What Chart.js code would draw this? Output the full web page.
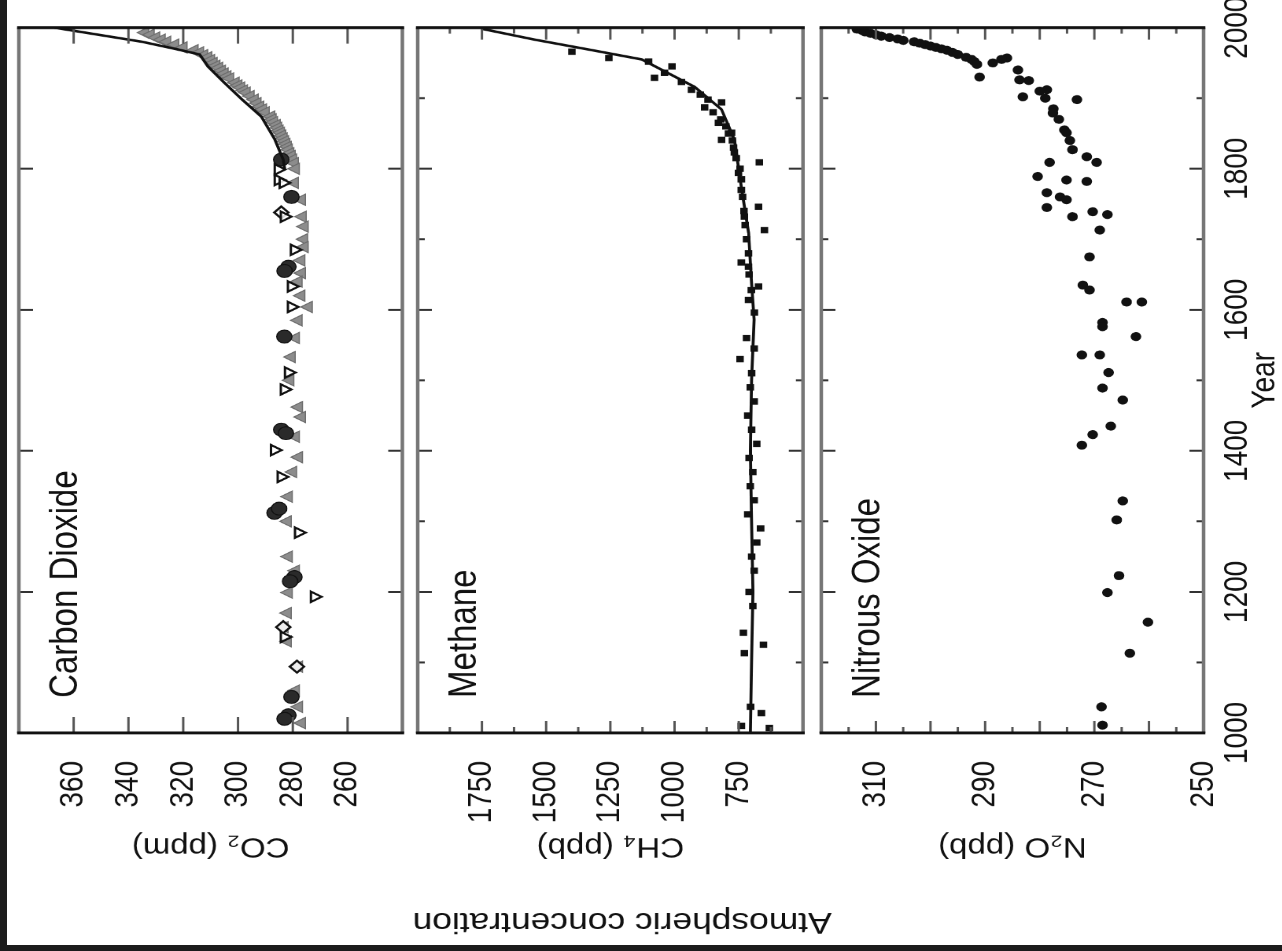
<!DOCTYPE html>
<html><head><meta charset="utf-8">
<script src="https://cdn.jsdelivr.net/npm/chart.js@4.4.1/dist/chart.umd.min.js"></script>
<style>
html,body{margin:0;padding:0;background:#fff;overflow:hidden;}
#stage{position:relative;width:1282px;height:951px;background:#fff;overflow:hidden;}
#rot{position:absolute;left:0;top:0;width:951px;height:1086px;transform-origin:0 0;transform:translate(0px,951px) rotate(-90deg) scale(1,1.18);}
.layer{position:absolute;left:0;top:0;width:951px;height:1086px;}
#bandL{position:absolute;left:0;top:0;width:7px;height:951px;background:#1c1c1c;}
#bandB{position:absolute;left:0;top:945px;width:1282px;height:6px;background:#1c1c1c;}
</style></head>
<body><div id="stage"><div id="rot">
<div class="layer"><canvas id="c1"></canvas></div>
<div class="layer"><canvas id="c2"></canvas></div>
<div class="layer"><canvas id="c3"></canvas></div>
</div><div id="bandL"></div><div id="bandB"></div></div>
<script>
// ---------- DATA ----------
const yearTicks = [1000, 1200, 1400, 1600, 1800, 2000];
const co2TickLabels = [260, 280, 300, 320, 340, 360];
const ch4TickLabels = [750, 1000, 1250, 1500, 1750];
const n2oTickLabels = [250, 270, 290, 310];

// CO2: direct / atmospheric record (line)
const co2LineYears  = [1800, 1813, 1841, 1874, 1898, 1922, 1945, 1962, 1970, 1980, 1990, 2000];
const co2LineValues = [283, 283.5, 286.5, 291.5, 298.5, 305, 311, 314, 323, 335, 351, 367];
// CO2 ice core, grey filled triangles
const co2GreyYears  = [1993, 1990, 1986, 1983, 1980, 1976, 1972, 1968, 1965, 1961, 1958, 1954, 1950, 1946, 1943, 1939, 1935, 1931, 1928, 1922, 1918, 1915, 1911, 1908, 1903, 1898, 1893, 1888, 1884, 1880, 1874, 1870, 1866, 1862, 1858, 1854, 1851, 1847, 1843, 1839, 1835, 1831, 1827, 1822, 1818, 1813, 1808, 1800,
  1780, 1756, 1732, 1718, 1700, 1689, 1670, 1652, 1640, 1620, 1604, 1585, 1560, 1533, 1500, 1462, 1448, 1420, 1391, 1370, 1335, 1300, 1250, 1230, 1199, 1170, 1150, 1130, 1094, 1060, 1037, 1014];
const co2GreyValues = [334, 332, 330, 328, 326, 323, 320, 316, 314, 312.5, 311, 310, 309, 308, 307, 306, 305, 304, 303, 301, 300, 299, 298, 297, 295.5, 294, 293, 292, 291, 290, 288, 287.5, 287, 286, 285.5, 285, 284.5, 284, 283.5, 283, 282.5, 282, 281.6, 281, 280.5, 280, 279.4, 279,
  279.4, 276.8, 276.5, 275.8, 276, 275.8, 277, 276.8, 278, 277, 274.3, 278, 279, 280.5, 281, 277.9, 276.8, 279, 277.9, 280, 281.6, 282, 281.6, 279, 281.6, 282, 283.1, 282, 277.9, 279, 277.9, 276.8];
// CO2 ice core, black filled circles
const co2BlackYears  = [1813, 1760, 1661, 1655, 1562, 1430, 1425, 1312, 1318, 1221, 1215, 1051, 1025, 1020];
const co2BlackValues = [284.2, 280.5, 281.6, 283, 283.1, 284.2, 282.5, 286.7, 285, 279.4, 281, 280.5, 281.6, 283];
// CO2 ice core, open triangles
const co2OpenTriYears  = [1799, 1784, 1780, 1732, 1685, 1633, 1604, 1511, 1487, 1401, 1363, 1284, 1193, 1136];
const co2OpenTriValues = [285.3, 285.3, 283.5, 283.1, 279.4, 280.5, 280.5, 281.6, 283.1, 286.7, 284.2, 277.9, 272.1, 283.1];
// CO2 ice core, open diamonds
const co2DiamondYears  = [1738, 1150, 1094];
const co2DiamondValues = [284.2, 283.5, 278.5];

// CH4
const ch4LineYears  = [1000, 1100, 1200, 1300, 1400, 1500, 1586, 1638, 1709, 1774, 1841, 1884, 1916, 1955, 1969, 1983, 1998];
const ch4LineValues = [705, 700, 695, 700, 705, 700, 690, 700, 712, 740, 767, 817, 922, 1128, 1334, 1544, 1745];
const ch4Years  = [1966, 1957, 1952, 1929, 1936, 1923, 1912, 1887, 1894, 1865, 1851, 1841, 1823, 1809, 1794, 1770, 1746, 1732, 1713, 1667, 1661, 1628, 1633, 1614, 1596,
  1880, 1870, 1860, 1850, 1840, 1830, 1815, 1800, 1785, 1760, 1740, 1720, 1700, 1680, 1650, 1945, 1905, 1898,
  1560, 1545, 1530, 1510, 1490, 1470, 1450, 1430, 1410, 1390, 1370, 1350, 1330, 1310, 1290, 1270, 1250, 1230, 1200, 1180, 1142, 1125, 1113, 1037, 1028, 1010, 1007];
const ch4Values = [1400, 1256, 1101, 1078, 1039, 973, 934, 883, 817, 829, 778, 817, 767, 670, 751, 740, 673, 728, 650, 740, 712, 701, 673, 712, 689,
  850, 820, 800, 790, 775, 770, 760, 745, 740, 735, 730, 725, 720, 712, 710, 1010, 900, 870,
  720, 690, 745, 700, 705, 690, 715, 700, 680, 710, 695, 705, 690, 715, 665, 680, 700, 690, 710, 695, 732, 654, 728, 704, 662, 740, 631];

// N2O
const n2oYears  = [1998, 1996, 1994, 1992, 1990, 1988, 1986, 1984, 1982, 1980, 1978, 1976, 1974, 1972, 1970, 1968, 1965, 1962, 1958, 1955, 1952, 1948, 1930, 1957, 1950,
  1955, 1940, 1925, 1910, 1900, 1885, 1870, 1855, 1840, 1827, 1926, 1902, 1912, 1879, 1851,
  1898, 1817, 1809, 1809, 1789, 1784, 1782, 1766, 1760, 1756, 1745, 1732, 1739, 1735, 1713, 1675, 1635, 1628, 1611, 1611, 1582,
  1576, 1562, 1536, 1536, 1511, 1489, 1472, 1435, 1423, 1408, 1329, 1302, 1223, 1199, 1157, 1113, 1037, 1011];
const n2oValues = [313.5, 312.5, 312, 311, 310, 309, 307.5, 306, 305, 303, 302, 301, 300, 299, 298, 297, 296, 295, 293.5, 292.5, 292, 291.5, 291, 286, 288.6,
  287, 284, 282, 280, 279, 277.5, 276.5, 275.5, 274.5, 274, 283.7, 283.1, 278.7, 277.6, 275.1,
  273.2, 271.4, 269.6, 278.2, 280.4, 275.1, 271.4, 278.7, 276.3, 275.1, 278.7, 274, 270.3, 267.6, 269, 270.9, 272.1, 270.9, 264.1, 261.3, 268.5,
  268.5, 262.4, 272.3, 269, 267.4, 268.5, 264.8, 267, 270.3, 272.3, 264.8, 265.9, 265.5, 267.6, 260.2, 263.5, 268.7, 268.5];

// ---------- CHART ----------
const FONT = "'Liberation Sans', Arial, Helvetica, sans-serif";
const INK = '#111';
const pts = (xs, ys) => xs.map((x, i) => ({x: x, y: ys[i]}));

const framePlugin = {
  id: 'frame',
  afterDatasetsDraw(chart, args, o) {
    const {ctx, chartArea: a, scales} = chart;
    const xs = scales.x, ys = scales.y;
    const seg = (x1, y1, x2, y2) => { ctx.beginPath(); ctx.moveTo(x1, y1); ctx.lineTo(x2, y2); ctx.stroke(); };
    ctx.save();
    ctx.lineWidth = 2;
    ctx.strokeStyle = '#333';
    xs.ticks.forEach(t => {
      if (t.value <= xs.min || t.value >= xs.max) return;
      const p = xs.getPixelForValue(t.value);
      const len = (t.value % 200 === 0) ? 12 : 6;
      seg(p, a.top, p, a.top + len);
      seg(p, a.bottom, p, a.bottom - len);
    });
    ctx.strokeStyle = '#555';
    ys.ticks.forEach(t => {
      if (t.value <= ys.min || t.value >= ys.max) return;
      const p = ys.getPixelForValue(t.value);
      const len = (t.value % o.major === 0) ? o.majorLen : 6;
      seg(a.left, p, a.left + len, p);
      seg(a.right, p, a.right - len, p);
    });
    ctx.lineWidth = 3;
    ctx.strokeStyle = '#767676';
    seg(a.left, a.top, a.right, a.top);
    seg(a.left, a.bottom, a.right, a.bottom);
    ctx.strokeStyle = INK;
    seg(a.left, a.top - 1.5, a.left, a.bottom + 1.5);
    seg(a.right, a.top - 1.5, a.right, a.bottom + 1.5);
    ctx.fillStyle = INK;
    ctx.font = '33px ' + FONT;
    ctx.textAlign = 'left';
    ctx.textBaseline = 'alphabetic';
    ctx.fillText(o.label, a.left + 35, a.top + 49);
    if (o.side) {
      ctx.translate(30, (a.top + a.bottom) / 2 + 10);
      ctx.rotate(-Math.PI / 2);
      ctx.font = '30px ' + FONT;
      ctx.textAlign = 'center';
      ctx.textBaseline = 'middle';
      ctx.fillText(o.side, 0, 0);
    }
    ctx.restore();
  }
};

function makeChart(id, p) {
  return new Chart(document.getElementById(id), {
    type: 'scatter',
    data: {datasets: p.datasets},
    plugins: [framePlugin],
    options: {
      responsive: true, maintainAspectRatio: false, animation: false, devicePixelRatio: 1.5,
      layout: {autoPadding: false, padding: {left: 0, right: 28, top: p.top, bottom: p.bottom}},
      plugins: {legend: {display: false}, tooltip: {enabled: false},
        frame: {label: p.label, side: p.side, major: p.major, majorLen: p.majorLen}},
      scales: {
        x: {
          type: 'linear', min: 1000, max: 2000,
          ticks: {display: p.yearLabels, stepSize: p.yearStep, maxTicksLimit: 1000, autoSkip: false, maxRotation: 0, minRotation: 0, padding: 4,
            font: {family: FONT, size: 28}, color: INK,
            callback: v => yearTicks.includes(v) ? String(v) : ''},
          grid: {display: false}, border: {display: false},
          title: {display: p.yearLabels, text: 'Year', align: 'center', color: INK, font: {family: FONT, size: 28, lineHeight: 1}, padding: {top: 0, bottom: 0}},
          afterFit: s => { s.height = p.xHeight; s.paddingLeft = 0; s.paddingRight = 0; }
        },
        y: {
          type: 'linear', min: p.min, max: p.max,
          ticks: {stepSize: p.step, maxTicksLimit: 1000, autoSkip: false, padding: 20,
            font: {family: FONT, size: 28}, color: INK,
            callback: v => p.tickLabels.includes(v) ? String(v) : ''},
          grid: {display: false}, border: {display: false},
          title: {display: true, text: p.title, color: INK, font: {family: FONT, size: 28}, padding: {top: 88, bottom: 0}},
          afterFit: s => { s.width = 218; s.paddingTop = 0; s.paddingBottom = 0; }
        }
      }
    }
  });
}

makeChart('c1', {
  top: 16, bottom: 745, xHeight: 0, yearLabels: false, yearStep: 200,
  min: 240, max: 380, step: 20, tickLabels: co2TickLabels, major: 20, majorLen: 16,
  title: 'CO\u2082 (ppm)', label: 'Carbon Dioxide',
  datasets: [
    {data: pts(co2LineYears, co2LineValues), showLine: true, borderColor: INK, borderWidth: 2.5, pointRadius: 0, fill: false},
    {data: pts(co2OpenTriYears, co2OpenTriValues), pointStyle: 'triangle', rotation: 180, pointRadius: 6, backgroundColor: 'rgba(255,255,255,0.85)', borderColor: INK, borderWidth: 2},
    {data: pts(co2DiamondYears, co2DiamondValues), pointStyle: 'rectRot', pointRadius: 6, backgroundColor: 'rgba(255,255,255,0.85)', borderColor: INK, borderWidth: 2},
    {data: pts(co2BlackYears, co2BlackValues), pointStyle: 'circle', pointRadius: 6.5, backgroundColor: '#2a2a2a', borderColor: INK, borderWidth: 1},
    {data: pts(co2GreyYears, co2GreyValues), pointStyle: 'triangle', pointRadius: 6.5, backgroundColor: '#8c8c8c', borderColor: '#6c6c6c', borderWidth: 1}
  ]
});

makeChart('c2', {
  top: 354, bottom: 405.5, xHeight: 0, yearLabels: false, yearStep: 100,
  min: 500, max: 2000, step: 125, tickLabels: ch4TickLabels, major: 250, majorLen: 12,
  title: 'CH\u2084 (ppb)', label: 'Methane', side: 'Atmospheric concentration',
  datasets: [
    {data: pts(ch4LineYears, ch4LineValues), showLine: true, borderColor: INK, borderWidth: 2.5, pointRadius: 0, fill: false},
    {data: pts(ch4Years, ch4Values), pointStyle: 'rect', pointRadius: 4.5, backgroundColor: INK, borderColor: INK, borderWidth: 0}
  ]
});

makeChart('c3', {
  top: 696, bottom: 0, xHeight: 66, yearLabels: true, yearStep: 100,
  min: 250, max: 320, step: 5, tickLabels: n2oTickLabels, major: 10, majorLen: 12,
  title: 'N\u2082O (ppb)', label: 'Nitrous Oxide',
  datasets: [
    {data: pts(n2oYears, n2oValues), pointStyle: 'circle', pointRadius: 4.5, backgroundColor: INK, borderColor: INK, borderWidth: 0}
  ]
});
</script>
</body></html>
